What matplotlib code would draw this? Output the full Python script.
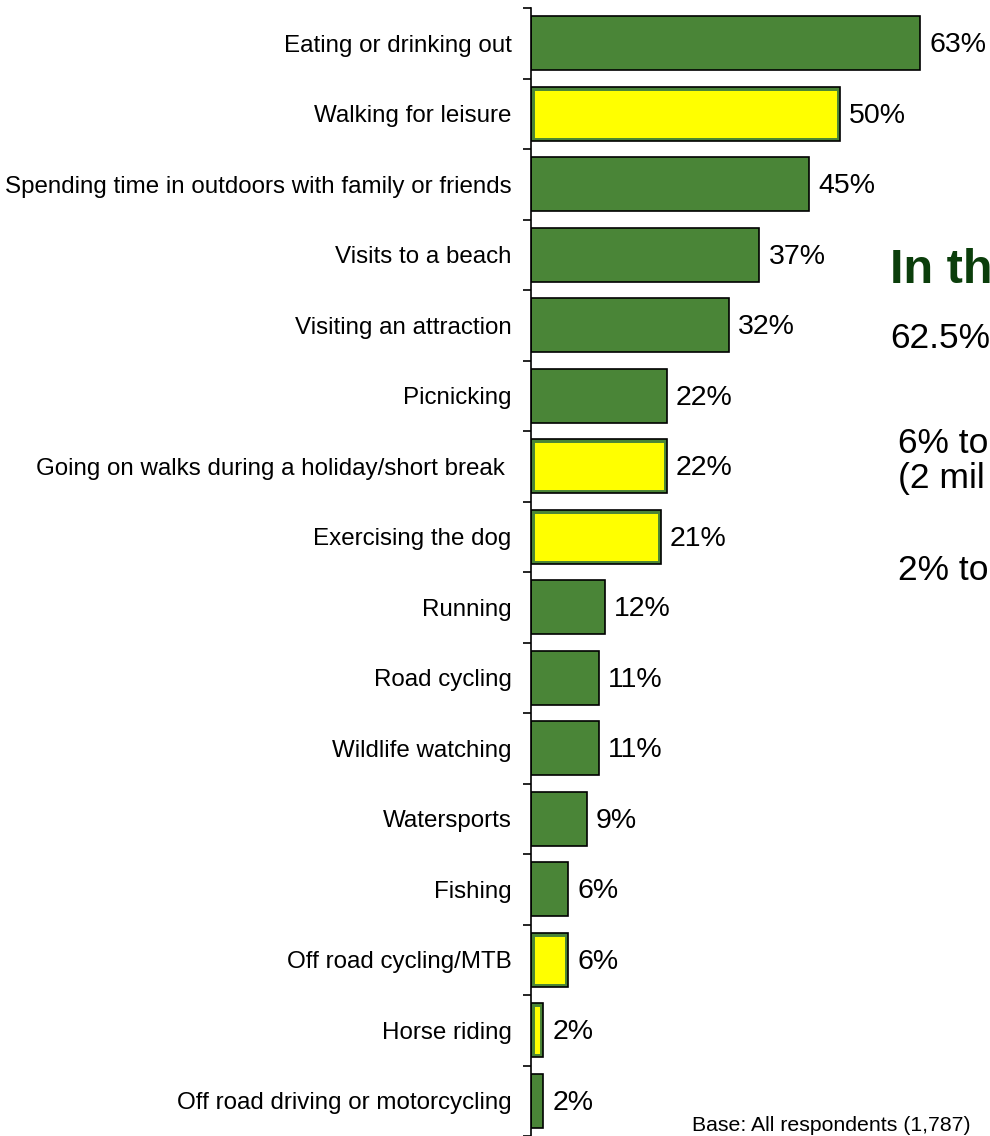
import matplotlib
matplotlib.use("Agg")
import matplotlib.pyplot as plt
import numpy as np

plt.rcParams['font.family'] = ['Liberation Sans', 'DejaVu Sans']

activities = [
    "Eating or drinking out",
    "Walking for leisure",
    "Spending time in outdoors with family or friends",
    "Visits to a beach",
    "Visiting an attraction",
    "Picnicking",
    "Going on walks during a holiday/short break ",
    "Exercising the dog",
    "Running",
    "Road cycling",
    "Wildlife watching",
    "Watersports",
    "Fishing",
    "Off road cycling/MTB",
    "Horse riding",
    "Off road driving or motorcycling",
]
percent = [63, 50, 45, 37, 32, 22, 22, 21, 12, 11, 11, 9, 6, 6, 2, 2]
walking = [False, True, False, False, False, False, True, True,
           False, False, False, False, False, True, True, False]

side_lines = ["In th", "62.5%", "6% to", "(2 mil", "2% to"]
base_note = "Base: All respondents (1,787)"

green = "#4A8537"
yellow = "#FFFF00"
dark_green = "#0B3E0B"

fig = plt.figure(figsize=(9.9, 11.36), dpi=100)
ax = fig.add_axes([531 / 990, 0, 1 - 531 / 990, 1128 / 1136])

y = np.arange(len(activities))
bar_h = 0.77
for yi, v, w in zip(y, percent, walking):
    if w:
        # yellow bars keep a green rim inside the black outline
        inner = ax.barh(yi, v, height=bar_h, color=yellow, edgecolor=green,
                        linewidth=5)[0]
        inner.set_clip_path(inner)
        ax.barh(yi, v, height=bar_h, color="none", edgecolor="black",
                linewidth=1.2)
    else:
        ax.barh(yi, v, height=bar_h, color=green, edgecolor="black",
                linewidth=1.2)
    ax.annotate(f"{v}%", xy=(v, yi), xytext=(6.5, -1.5), textcoords="offset points",
                va="center", ha="left", fontsize=20.5, color="black",
                annotation_clip=False)

ax.set_xlim(0, (990 - 531) / 6.175)
ax.set_ylim(len(activities) - 0.5, -0.5)
ax.set_yticks(y)
ax.set_yticklabels(activities, fontsize=17.4)
ax.set_yticks(np.arange(len(activities) + 1) - 0.5, minor=True)
ax.tick_params(axis="y", which="major", length=0, pad=14)
ax.tick_params(axis="y", which="minor", length=6, width=1.2, direction="out")
ax.set_xticks([])
for s in ["top", "right", "bottom"]:
    ax.spines[s].set_visible(False)
ax.spines["left"].set_linewidth(1.2)

fig.text(890 / 990, 1 - 283 / 1136, side_lines[0], fontsize=35, weight="bold",
         color=dark_green, va="baseline")
fig.text(890 / 990, 1 - 348 / 1136, side_lines[1], fontsize=25.5, va="baseline")
fig.text(898 / 990, 1 - 453 / 1136, side_lines[2], fontsize=25.5, va="baseline")
fig.text(898 / 990, 1 - 488 / 1136, side_lines[3], fontsize=25.5, va="baseline")
fig.text(898 / 990, 1 - 580 / 1136, side_lines[4], fontsize=25.5, va="baseline")
fig.text(692 / 990, 1 - 1131 / 1136, base_note, fontsize=15.3, va="baseline")

fig.savefig("out.png", dpi=100)
